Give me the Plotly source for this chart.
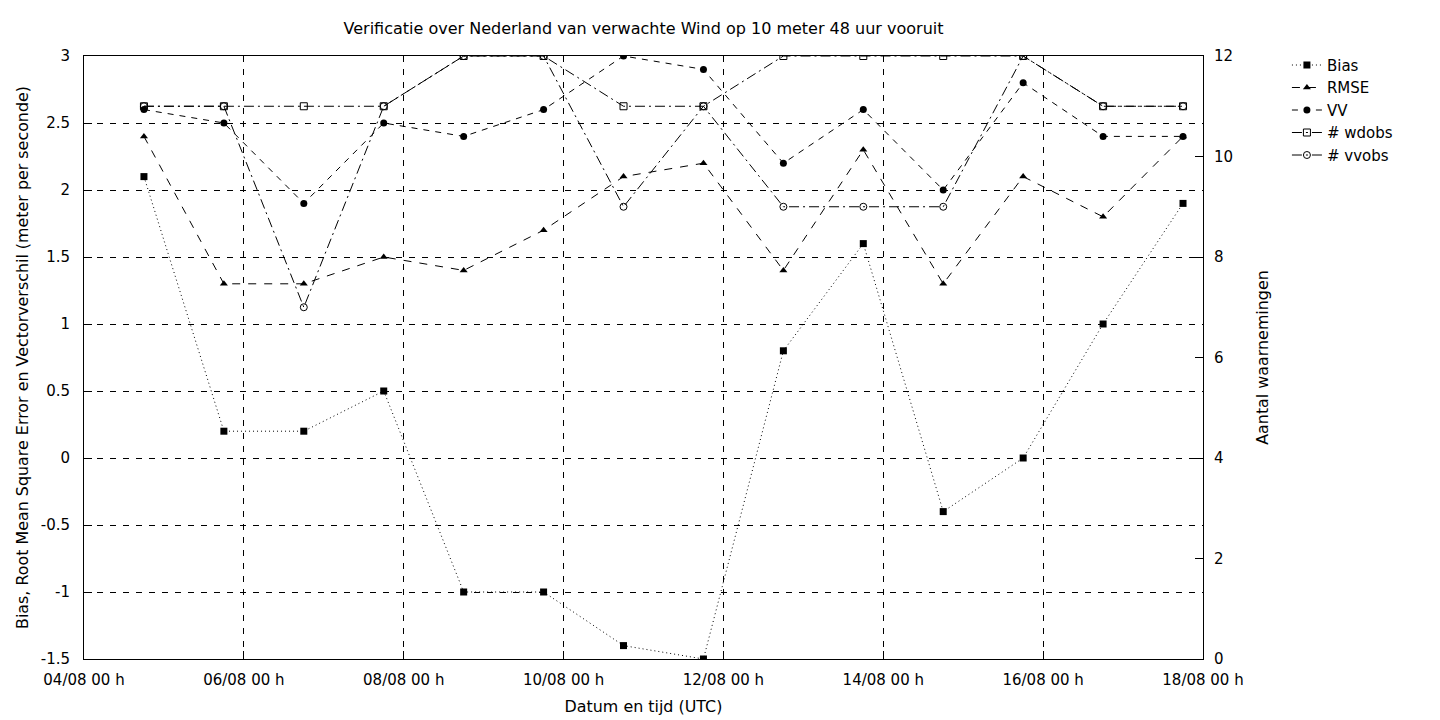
import plotly.graph_objects as go
import pandas as pd

dates = pd.date_range("2024-08-04 18:00", periods=14, freq="D")
bias = [2.1, 0.2, 0.2, 0.5, -1.0, -1.0, -1.4, -1.5, 0.8, 1.6, -0.4, 0.0, 1.0, 1.9]
rmse = [2.4, 1.3, 1.3, 1.5, 1.4, 1.7, 2.1, 2.2, 1.4, 2.3, 1.3, 2.1, 1.8, 2.4]
vv = [2.6, 2.5, 1.9, 2.5, 2.4, 2.6, 3.0, 2.9, 2.2, 2.6, 2.0, 2.8, 2.4, 2.4]
wdobs = [11, 11, 11, 11, 12, 12, 11, 11, 12, 12, 12, 12, 11, 11]
vvobs = [11, 11, 7, 11, 12, 12, 9, 11, 9, 9, 9, 12, 11, 11]
left_tickvals = [-1.5, -1.0, -0.5, 0, 0.5, 1.0, 1.5, 2.0, 2.5, 3.0]
left_ticktext = ["-1.5", "-1", "-0.5", "0", "0.5", "1", "1.5", "2", "2.5", "3"]

font = "DejaVu Sans, sans-serif"
fig = go.Figure()
fig.add_trace(go.Scatter(x=dates, y=bias, name="Bias", mode="lines+markers",
                         line=dict(color="black", width=1, dash="1px,3px"),
                         marker=dict(symbol="square", size=7, color="black")))
fig.add_trace(go.Scatter(x=dates, y=rmse, name="RMSE", mode="lines+markers",
                         line=dict(color="black", width=1, dash="8px,8px"),
                         marker=dict(symbol="triangle-up", size=7, color="black")))
fig.add_trace(go.Scatter(x=dates, y=vv, name="VV", mode="lines+markers",
                         line=dict(color="black", width=1, dash="6px,6px"),
                         marker=dict(symbol="circle", size=7, color="black")))
fig.add_trace(go.Scatter(x=dates, y=wdobs, name="# wdobs", mode="lines+markers", yaxis="y2",
                         line=dict(color="black", width=1, dash="10px,4px,2px,4px"),
                         marker=dict(symbol="square-open", size=7, color="black")))
fig.add_trace(go.Scatter(x=dates, y=vvobs, name="# vvobs", mode="lines+markers", yaxis="y2",
                         line=dict(color="black", width=1, dash="10px,4px,2px,4px"),
                         marker=dict(symbol="circle-open", size=7, color="black")))

fig.update_layout(
    width=1440, height=720,
    margin=dict(l=84, r=237, t=56, b=61),
    paper_bgcolor="white", plot_bgcolor="white",
    font=dict(family=font, size=15, color="black"),
    title=dict(text="Verificatie over Nederland van verwachte Wind op 10 meter 48 uur vooruit",
               x=0.5, xref="paper", y=1 - 28 / 720, yanchor="middle", font=dict(size=16)),
    xaxis=dict(range=["2024-08-04 00:00", "2024-08-18 00:00"], dtick=2 * 86400000,
               tick0="2024-08-04", tickformat="%d/%m %H h", automargin=False,
               title=dict(text="Datum en tijd (UTC)", standoff=12, font=dict(size=15.9)),
               showgrid=True, gridcolor="black", griddash="6px,7px", gridwidth=1,
               showline=True, linecolor="black", linewidth=1, mirror=True,
               ticks="inside", ticklen=8, tickcolor="black", zeroline=False,
               ticklabelstandoff=7),
    yaxis=dict(range=[-1.5, 3], tickmode="array", tickvals=left_tickvals, ticktext=left_ticktext,
               automargin=False,
               title=dict(text="Bias, Root Mean Square Error en Vectorverschil (meter per seconde)",
                          standoff=8, font=dict(size=15.9)),
               showgrid=True, gridcolor="black", griddash="6px,7px", gridwidth=1,
               showline=True, linecolor="black", linewidth=1, mirror=True,
               ticks="inside", ticklen=8, tickcolor="black", zeroline=False,
               ticklabelstandoff=10),
    yaxis2=dict(range=[0, 12], dtick=2, overlaying="y", side="right", automargin=False,
                title=dict(text="Aantal waarnemingen", standoff=24, font=dict(size=15.9)),
                showgrid=False, ticks="inside", ticklen=8, tickcolor="black",
                zeroline=False, ticklabelstandoff=10),
    legend=dict(x=1.075, y=1.012, xanchor="left", yanchor="top",
                font=dict(size=15), bgcolor="rgba(0,0,0,0)", tracegroupgap=0),
    showlegend=True,
)

fig.write_html("out.html", config={"displayModeBar": False},
               post_script="document.body.style.margin='0';document.body.style.padding='0';")
